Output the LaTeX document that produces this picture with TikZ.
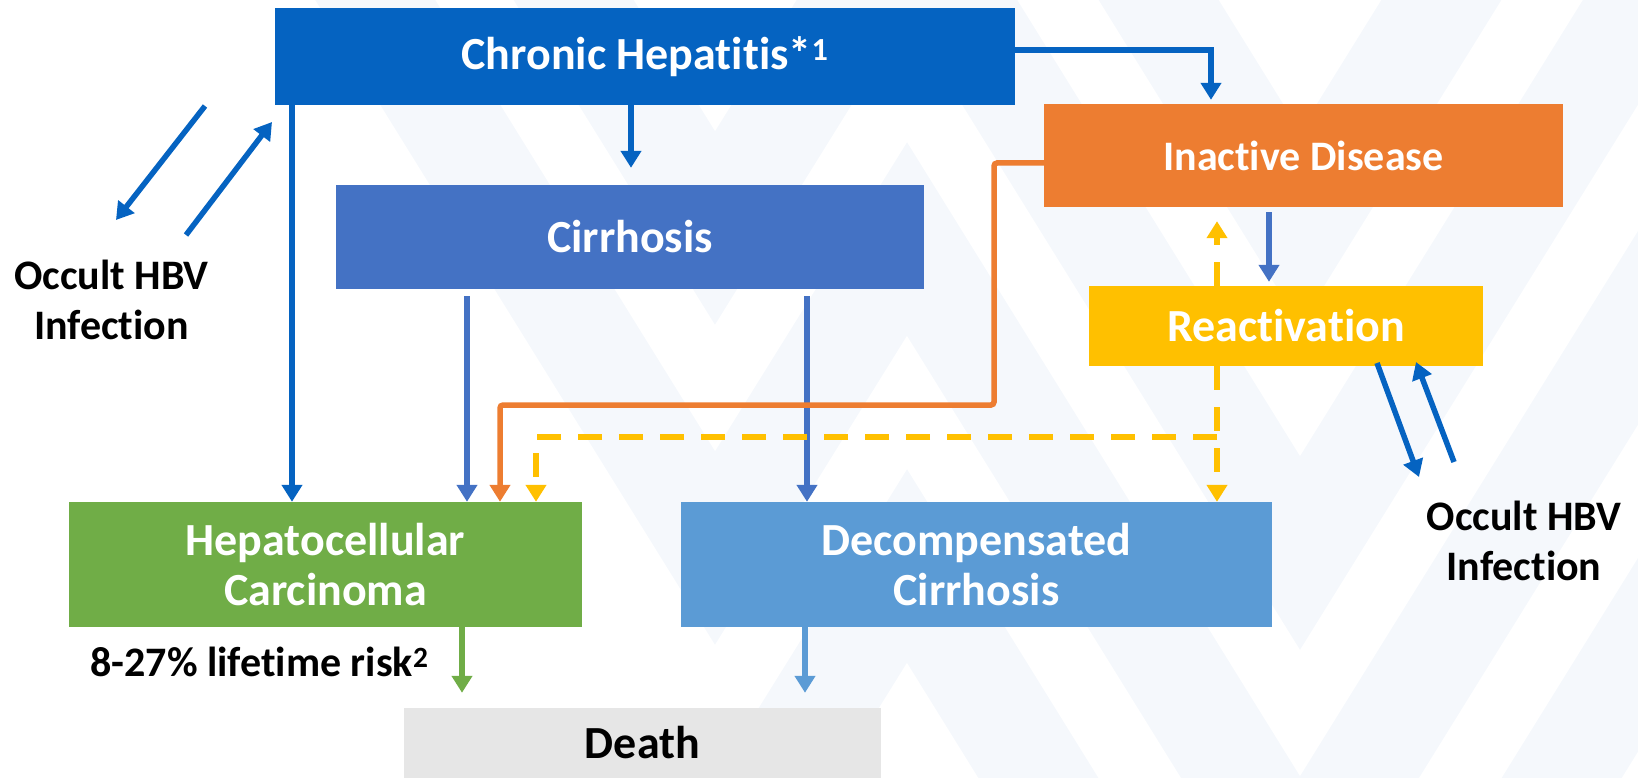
\documentclass[tikz,border=0pt]{standalone}
\usepackage{fontspec}
\setmainfont{Carlito}[Ligatures=NoCommon]
\usetikzlibrary{arrows.meta}

\definecolor{chronicBlue}{HTML}{0563C1}
\definecolor{cirrBlue}{HTML}{4472C4}
\definecolor{inactOrange}{HTML}{ED7D31}
\definecolor{reactYellow}{HTML}{FFC000}
\definecolor{hccGreen}{HTML}{70AD47}
\definecolor{decompBlue}{HTML}{5B9BD5}
\definecolor{deathGray}{HTML}{E6E6E6}
\definecolor{wmBlue}{HTML}{F5F8FC}

\begin{document}
\begin{tikzpicture}[x=1pt,y=-1pt,
		stateBox/.style={rectangle,inner sep=0pt,text=white,align=center,font=\bfseries\fontsize{46}{50}\selectfont},
		occText/.style={align=center,font=\bfseries\fontsize{42}{50}\selectfont},
		flow/.style={line width=5.5pt,-{Triangle[width=20pt,length=17pt]}},
		yDash/.style={dash pattern=on 24pt off 17pt}]
		
		\useasboundingbox (0,0) rectangle (1638,778);
		
		% watermark
		\begin{scope}[line width=102pt,draw=wmBlue,line join=miter]
		\draw (907,-406) -- (1300,228) -- (1734,-472);
		\draw (467,-172) -- (715,228) -- (907,-81) -- (1300,553) -- (1796,-247);
		\draw (312,-102) -- (715,548) -- (907,239) -- (1300,873) -- (1796,73);
		\draw (650,770) -- (715,875) -- (907,566) -- (1300,1200) -- (1796,400);
		\end{scope}
		
		% states
		\node[stateBox,fill=chronicBlue,minimum width=740pt,minimum height=97pt] (chronic) at (645,56.5) {Chronic Hepatitis*\textsuperscript{1}};
		\node[stateBox,fill=cirrBlue,minimum width=588pt,minimum height=104pt] (cirr) at (630,237) {Cirrhosis};
		\node[stateBox,fill=inactOrange,minimum width=519pt,minimum height=103pt,font=\bfseries\fontsize{42}{50}\selectfont] (inact) at (1303.5,155.5) {Inactive Disease};
		\node[stateBox,fill=reactYellow,minimum width=394pt,minimum height=80pt] (react) at (1286,326) {Reactivation};
		\node[stateBox,fill=hccGreen,minimum width=513pt,minimum height=125pt] (hcc) at (325.5,564.5) {Hepatocellular\\Carcinoma};
		\node[stateBox,fill=decompBlue,minimum width=591pt,minimum height=125pt] (decomp) at (976.5,564.5) {Decompensated\\Cirrhosis};
		\node[stateBox,fill=deathGray,text=black,minimum width=477pt,minimum height=70pt] (death) at (642.5,743) {Death};
		
		% labels
		\node[occText] (occL) at (111.5,299.5) {Occult HBV\\Infection};
		\node[occText] (occR) at (1524,541) {Occult HBV\\Infection};
		\node[occText] (risk) at (259.5,662) {8-27\% lifetime risk\textsuperscript{2}};
		
		% columns and rows of the connectors
		\coordinate (colA) at (292,0);
		\coordinate (colB) at (467,0);
		\coordinate (colC) at (500,0);
		\coordinate (colD) at (536,0);
		\coordinate (colCirr) at (631,0);
		\coordinate (colE) at (807,0);
		\coordinate (colF) at (1217,0);
		\coordinate (colG) at (1211,0);
		\coordinate (colH) at (1269,0);
		\coordinate (colI) at (462,0);
		\coordinate (colJ) at (805,0);
		\coordinate (rowCI) at (0,50);
		\coordinate (rowOr) at (0,163);
		\coordinate (orKnee) at (994,405);
		\coordinate (rowY) at (0,437);
		
		% chronic hepatitis
		\draw[flow,chronicBlue] (colA |- chronic.south) -- (colA |- hcc.north);
		\draw[flow,chronicBlue,shorten >=17pt] (colCirr |- chronic.south) -- (colCirr |- cirr.north);
		\draw[flow,chronicBlue,shorten >=4pt] (rowCI -| chronic.east) -| (colG |- inact.north);
		
		% cirrhosis
		\draw[flow,cirrBlue,shorten <=7pt] (colB |- cirr.south) -- (colB |- hcc.north);
		\draw[flow,cirrBlue,shorten <=7pt] (colE |- cirr.south) -- (colE |- decomp.north);
		
		% inactive disease and reactivation
		\draw[flow,inactOrange,rounded corners=3pt] (rowOr -| inact.west) -| (orKnee) -| (colC |- hcc.north);
		\draw[flow,cirrBlue,shorten <=5pt,shorten >=4pt] (colH |- inact.south) -- (colH |- react.north);
		\draw[flow,reactYellow,yDash,shorten >=14pt] (colF |- react.north) -- (colF |- inact.south);
		\draw[flow,reactYellow,yDash] (colF |- react.south) -- (colF |- decomp.north);
		\draw[flow,reactYellow,yDash] (rowY -| colF) -| (colD |- hcc.north);
		
		% death
		\draw[flow,hccGreen,shorten >=15pt] (colI |- hcc.south) -- (colI |- death.north);
		\draw[flow,decompBlue,shorten >=15pt] (colJ |- decomp.south) -- (colJ |- death.north);
		
		% occult infection
		\coordinate (oLout) at (205,106);
		\coordinate (oLoutEnd) at (116,220);
		\coordinate (oLin) at (186,235);
		\coordinate (oLinEnd) at (272,122);
		\coordinate (oRout) at (1377,363);
		\coordinate (oRoutEnd) at (1419,477);
		\coordinate (oRin) at (1454,462);
		\coordinate (oRinEnd) at (1416,362);
		\draw[flow,chronicBlue] (oLout) -- (oLoutEnd);
		\draw[flow,chronicBlue] (oLin) -- (oLinEnd);
		\draw[flow,chronicBlue] (oRout) -- (oRoutEnd);
		\draw[flow,chronicBlue] (oRin) -- (oRinEnd);
\end{tikzpicture}
\end{document}
